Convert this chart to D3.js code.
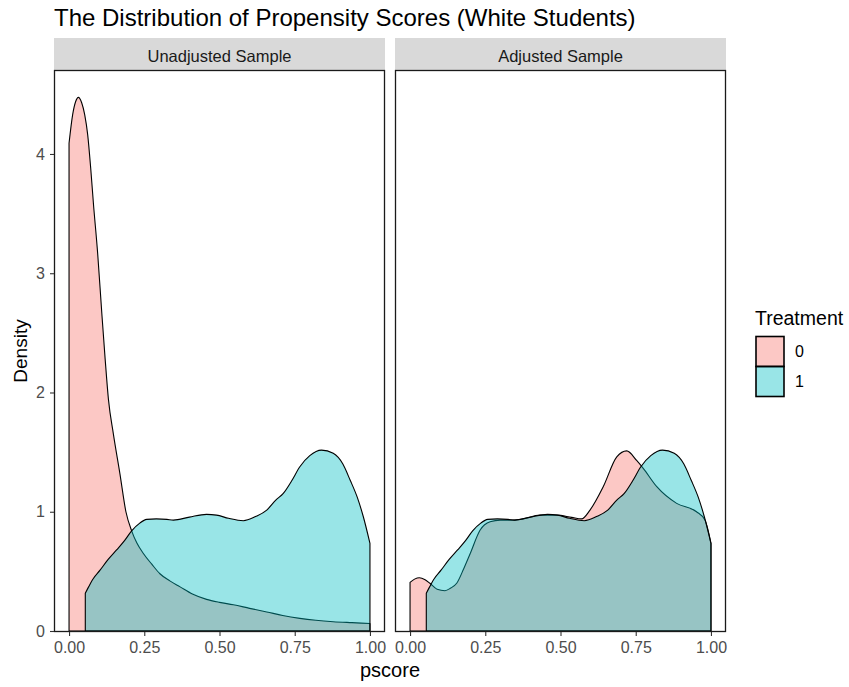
<!DOCTYPE html>
<html>
<head>
<meta charset="utf-8">
<script src="https://cdn.jsdelivr.net/npm/d3@7"></script>
<style>
  html, body { margin: 0; padding: 0; background: #fff; }
  svg { display: block; font-family: "Liberation Sans", Arial, sans-serif; }
</style>
</head>
<body>
<svg id="chart" width="849" height="687"></svg>
<script>
// ---- Data ----
const panels = ["Unadjusted Sample", "Adjusted Sample"];
const treatments = ["0", "1"];
const xTicks = [0, 0.25, 0.5, 0.75, 1.0];
const xTickLabels = ["0.00", "0.25", "0.50", "0.75", "1.00"];
const yTicks = [0, 1, 2, 3, 4];

// Unadjusted sample, Treatment 0: [pscore, density]
const unadjControl = [
  [0, 4.09], [0.012, 4.33], [0.022, 4.44], [0.031, 4.475], [0.042, 4.43], [0.052, 4.33],
  [0.062, 4.16], [0.072, 3.88], [0.081, 3.585], [0.095, 3.17], [0.109, 2.66], [0.12, 2.28],
  [0.131, 1.94], [0.147, 1.657], [0.169, 1.32], [0.189, 1.0], [0.208, 0.84], [0.225, 0.74],
  [0.247, 0.65], [0.275, 0.56], [0.302, 0.48], [0.335, 0.42], [0.369, 0.37], [0.41, 0.31],
  [0.457, 0.265], [0.5, 0.24], [0.546, 0.22], [0.6, 0.19], [0.657, 0.16], [0.71, 0.13],
  [0.767, 0.106], [0.82, 0.09], [0.878, 0.078], [0.94, 0.07], [1.0, 0.063]
];
// Treatment 1 (same in both panels)
const treated = [
  [0.054, 0.316], [0.065, 0.37], [0.078, 0.43], [0.103, 0.51], [0.13, 0.6], [0.158, 0.68],
  [0.185, 0.76], [0.208, 0.84], [0.235, 0.905], [0.258, 0.936], [0.29, 0.94], [0.325, 0.936],
  [0.347, 0.93], [0.4, 0.955], [0.457, 0.978], [0.49, 0.972], [0.53, 0.945], [0.579, 0.925],
  [0.62, 0.96], [0.657, 1.014], [0.687, 1.098], [0.712, 1.154], [0.74, 1.26], [0.767, 1.377],
  [0.8, 1.47], [0.839, 1.517], [0.878, 1.49], [0.91, 1.4], [0.934, 1.266], [0.958, 1.12],
  [0.978, 0.958], [1.0, 0.735]
];
// Adjusted sample, Treatment 0
const adjControl = [
  [0, 0.408], [0.015, 0.435], [0.031, 0.447], [0.05, 0.43], [0.066, 0.4], [0.09, 0.35],
  [0.116, 0.338], [0.135, 0.36], [0.155, 0.4], [0.178, 0.52], [0.2, 0.65], [0.233, 0.847],
  [0.266, 0.916], [0.3, 0.93], [0.35, 0.93], [0.376, 0.94], [0.432, 0.972], [0.487, 0.972],
  [0.537, 0.953], [0.57, 0.94], [0.598, 1.014], [0.642, 1.21], [0.687, 1.46], [0.72, 1.51],
  [0.753, 1.43], [0.775, 1.364], [0.82, 1.21], [0.886, 1.07], [0.952, 1.0], [0.98, 0.93],
  [1.0, 0.735]
];

const panelData = [
  [unadjControl, treated],
  [adjControl, treated]
];

const colors = ["#F8766D", "#00BFC4"];

// ---- Layout ----
const svg = d3.select("#chart");
const panelX = [54, 395];
const panelW = 331;
const panelTop = 70, panelBottom = 632;
const stripTop = 38;

const y = d3.scaleLinear().domain([0, 4.7]).range([631, 70.5]);

// Title
svg.append("text")
  .attr("x", 54).attr("y", 26)
  .attr("font-size", 24).attr("fill", "#000")
  .text("The Distribution of Propensity Scores (White Students)");

panels.forEach((name, i) => {
  const x0 = panelX[i];
  const x = d3.scaleLinear().domain([-0.05, 1.05]).range([x0, x0 + panelW]);
  const g = svg.append("g");

  // strip
  g.append("rect")
    .attr("x", x0).attr("y", stripTop)
    .attr("width", panelW).attr("height", panelTop - stripTop)
    .attr("fill", "#D9D9D9");
  g.append("text")
    .attr("x", x0 + panelW / 2).attr("y", 62)
    .attr("text-anchor", "middle")
    .attr("font-size", 16.5).attr("fill", "#1A1A1A")
    .text(name);

  // density areas
  const area = d3.area()
    .x(d => x(d[0]))
    .y0(y(0))
    .y1(d => y(d[1]))
    .curve(d3.curveMonotoneX);

  panelData[i].forEach((series, k) => {
    g.append("path")
      .datum(series)
      .attr("d", area)
      .attr("fill", colors[k])
      .attr("fill-opacity", 0.4)
      .attr("stroke", "#000")
      .attr("stroke-width", 1.1)
      .attr("stroke-linejoin", "round");
  });

  // panel border
  g.append("rect")
    .attr("x", x0 + 0.5).attr("y", panelTop + 0.5)
    .attr("width", panelW - 1).attr("height", panelBottom - panelTop - 1)
    .attr("fill", "none").attr("stroke", "#1a1a1a").attr("stroke-width", 1.3);

  // x axis
  const xAxis = d3.axisBottom(x)
    .tickValues(xTicks)
    .tickFormat((d, j) => xTickLabels[j])
    .tickSize(4).tickPadding(6);
  const ax = g.append("g")
    .attr("transform", `translate(0,${panelBottom})`)
    .call(xAxis);
  ax.select(".domain").remove();
  ax.selectAll(".tick line").attr("stroke", "#333").attr("stroke-width", 1.1);
  ax.selectAll(".tick text")
    .attr("font-size", 16).attr("fill", "#4D4D4D")
    .attr("font-family", "Liberation Sans, Arial, sans-serif");

  if (i === 0) {
    const yAxis = d3.axisLeft(y).tickValues(yTicks).tickFormat(d3.format("d"))
      .tickSize(4).tickPadding(5);
    const ay = g.append("g")
      .attr("transform", `translate(${x0},0)`)
      .call(yAxis);
    ay.select(".domain").remove();
    ay.selectAll(".tick line").attr("stroke", "#333").attr("stroke-width", 1.1);
    ay.selectAll(".tick text")
      .attr("font-size", 16).attr("fill", "#4D4D4D")
      .attr("font-family", "Liberation Sans, Arial, sans-serif");
  }
});

// Axis titles
svg.append("text")
  .attr("x", 390).attr("y", 677)
  .attr("text-anchor", "middle")
  .attr("font-size", 20).attr("fill", "#000")
  .text("pscore");
svg.append("text")
  .attr("transform", "translate(27,351) rotate(-90)")
  .attr("text-anchor", "middle")
  .attr("font-size", 19).attr("fill", "#000")
  .text("Density");

// Legend
const leg = svg.append("g");
leg.append("text")
  .attr("x", 755).attr("y", 325)
  .attr("font-size", 19.5).attr("fill", "#000")
  .text("Treatment");
treatments.forEach((t, k) => {
  leg.append("rect")
    .attr("x", 756).attr("y", 336.5 + k * 30)
    .attr("width", 28).attr("height", 30)
    .attr("fill", colors[k]).attr("fill-opacity", 0.4)
    .attr("stroke", "#000").attr("stroke-width", 1.6);
  leg.append("text")
    .attr("x", 795).attr("y", 357 + k * 30)
    .attr("font-size", 16).attr("fill", "#000")
    .text(t);
});
</script>
</body>
</html>
